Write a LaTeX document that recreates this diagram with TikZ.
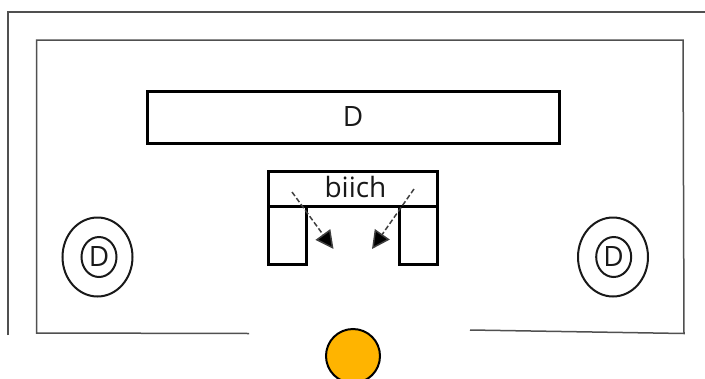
\documentclass[tikz,border=0pt]{standalone}
\usepackage{fontspec}
\setmainfont{Open Sans}
\usetikzlibrary{arrows.meta,shapes.geometric}
\definecolor{wallgray}{HTML}{505050}
\definecolor{seatorange}{HTML}{FFB400}
\tikzset{
  wall/.style={draw=wallgray,line width=1.5pt},
  boxline/.style={draw=black,line width=3pt,outer sep=0pt,inner sep=0pt},
  ringline/.style={draw=black!90,line width=2pt,outer sep=0pt,inner sep=0pt},
  labeltext/.style={font=\fontsize{28pt}{30pt}\selectfont,text=black!90},
  ringtext/.style={font=\fontsize{28pt}{30pt}\selectfont,text=black!90},
  dasharrow/.style={draw=black!75,line width=1.5pt,dash pattern=on 5pt off 2.5pt,-{Triangle[length=18pt,width=18pt,fill=black]}}
}
\begin{document}
\begin{tikzpicture}[x=1pt,y=-1pt]
\useasboundingbox (0,0) rectangle (705,378);
\fill[white] (0,0) rectangle (705,378);
% outer wall
\coordinate (outerBL) at (8,335);
\coordinate (outerTL) at (8,12);
\coordinate (outerTR) at (705,12);
\draw[wall] (outerBL) -- (outerTL) -- (outerTR);
% inner wall
\coordinate (innerGapL) at (249,333.5);
\coordinate (innerBL) at (36.5,333);
\coordinate (innerTL) at (36.5,40);
\coordinate (innerTR) at (683,40);
\coordinate (innerBR) at (684,333.5);
\coordinate (innerGapR) at (470,330);
\draw[wall] (innerGapL) -- (innerBL) -- (innerTL) -- (innerTR) -- (innerBR) -- (innerGapR);
% table
\node[boxline,minimum width=412pt,minimum height=52pt,labeltext] (table) at (353,117) {D};
% sofa
\node[boxline,minimum width=169.5pt,minimum height=35pt,anchor=north west] (back) at (268,171) {};
\node[labeltext,inner sep=0pt] (backlabel) at (355.5,187) {biich};
\node[boxline,minimum width=38.7pt,minimum height=58.3pt,anchor=north west] (armL) at (268,206) {};
\node[boxline,minimum width=38.2pt,minimum height=58.3pt,anchor=north west] (armR) at (399.3,206) {};
% arrows
\coordinate (aLs) at (292,192);
\coordinate (aLe) at (333.5,249);
\coordinate (aRs) at (414,189);
\coordinate (aRe) at (372,249);
\draw[dasharrow] (aLs) -- (aLe);
\draw[dasharrow] (aRs) -- (aRe);
% rings
\node[ringline,ellipse,minimum width=70pt,minimum height=79pt] (ringL) at (97.5,257) {};
\node[ringline,ellipse,minimum width=35pt,minimum height=40pt,ringtext] (dotL) at (99,257) {D};
\node[ringline,ellipse,minimum width=70pt,minimum height=79pt] (ringR) at (613,257) {};
\node[ringline,ellipse,minimum width=35pt,minimum height=40pt,ringtext] (dotR) at (613.7,257) {D};
% orange
\node[circle,draw=black,line width=2pt,fill=seatorange,minimum size=54pt,inner sep=0pt] (person) at (353,356) {};
\end{tikzpicture}
\end{document}
